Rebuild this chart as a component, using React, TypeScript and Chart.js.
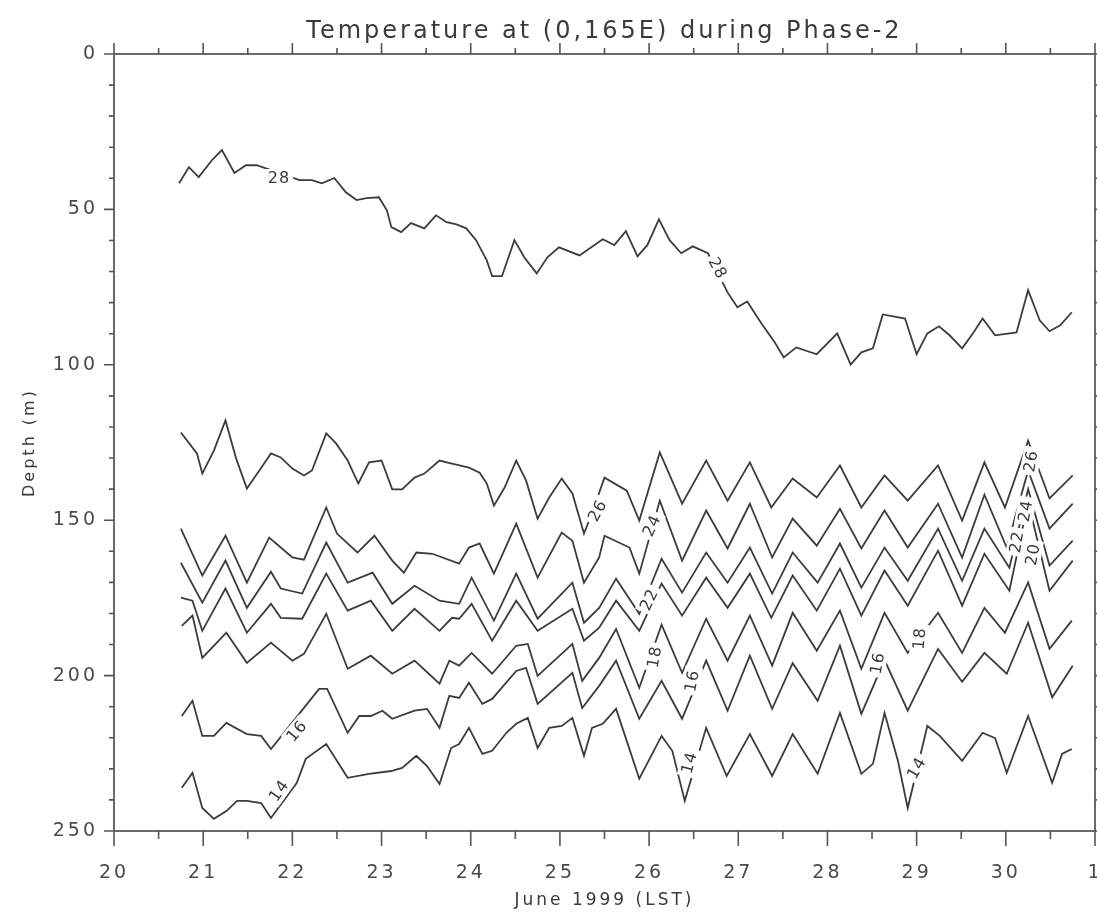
import React, { useEffect, useRef } from 'react';
import { Chart, registerables } from 'chart.js';

Chart.register(...registerables);

const TITLE = 'Temperature at (0,165E) during Phase-2';
const X_TITLE = 'June 1999 (LST)';
const Y_TITLE = 'Depth (m)';

const X_MIN = 20;
const X_MAX = 31;
const DEPTH_MIN = 0;
const DEPTH_MAX = 250;

const X_MAJOR_TICKS = [20, 21, 22, 23, 24, 25, 26, 27, 28, 29, 30, 31];
const X_TICK_LABELS = ['20', '21', '22', '23', '24', '25', '26', '27', '28', '29', '30', '1'];
const X_MINOR_TICKS = [20.5, 21.5, 22.5, 23.5, 24.5, 25.5, 26.5, 27.5, 28.5, 29.5, 30.5];
const DEPTH_MAJOR_TICKS = [0, 50, 100, 150, 200, 250];
const DEPTH_MINOR_TICKS = [10, 20, 30, 40, 60, 70, 80, 90, 110, 120, 130, 140, 160, 170, 180, 190, 210, 220, 230, 240];

// Isotherm 28 °C
const T28_DAY = [20.73, 20.84, 20.95, 21.10, 21.21, 21.35, 21.48, 21.60, 22.08, 22.22, 22.33, 22.47, 22.60, 22.72, 22.83, 22.97, 23.06, 23.11, 23.22, 23.33, 23.48, 23.61, 23.73, 23.84, 23.95, 24.06, 24.18, 24.24, 24.35, 24.49, 24.60, 24.74, 24.86, 24.99, 25.22, 25.48, 25.61, 25.74, 25.87, 25.98, 26.11, 26.23, 26.36, 26.49, 26.66, 26.88, 26.99, 27.10, 27.26, 27.41, 27.51, 27.65, 27.88, 28.11, 28.26, 28.38, 28.51, 28.62, 28.87, 29.00, 29.12, 29.25, 29.37, 29.51, 29.63, 29.74, 29.88, 30.12, 30.25, 30.38, 30.49, 30.61, 30.74];
const T28_DEPTH = [41.6, 36.4, 39.6, 34.1, 30.9, 38.3, 35.8, 35.8, 40.6, 40.6, 41.6, 39.9, 44.5, 47.0, 46.4, 46.1, 50.3, 55.7, 57.3, 54.4, 56.1, 51.9, 54.1, 54.8, 56.1, 59.9, 66.4, 71.5, 71.5, 59.9, 65.4, 70.6, 65.4, 62.2, 64.8, 59.6, 61.5, 57.0, 65.1, 61.5, 53.2, 59.9, 64.1, 61.9, 64.1, 76.7, 81.5, 79.6, 86.7, 92.8, 97.6, 94.4, 96.6, 89.9, 99.9, 96.0, 94.7, 83.8, 85.1, 96.6, 89.9, 87.6, 90.5, 94.7, 89.9, 85.1, 90.5, 89.6, 76.0, 85.7, 89.2, 87.3, 83.1];

// Isotherm 26 °C
const T26_DAY = [20.75, 20.93, 20.99, 21.12, 21.25, 21.37, 21.49, 21.63, 21.76, 21.87, 22.00, 22.13, 22.22, 22.38, 22.49, 22.62, 22.74, 22.86, 23.00, 23.12, 23.23, 23.37, 23.48, 23.65, 23.79, 23.98, 24.10, 24.18, 24.26, 24.38, 24.51, 24.62, 24.75, 24.88, 25.02, 25.14, 25.27, 25.35, 25.50, 25.75, 25.89, 26.12, 26.37, 26.64, 26.88, 27.13, 27.37, 27.61, 27.88, 28.14, 28.38, 28.64, 28.90, 29.24, 29.51, 29.76, 29.99, 30.25, 30.49, 30.75];
const T26_DEPTH = [121.8, 128.5, 135.0, 127.6, 117.9, 130.2, 139.8, 134.0, 128.5, 129.8, 133.4, 135.6, 134.0, 122.1, 125.3, 130.8, 138.2, 131.4, 130.8, 140.1, 140.1, 136.3, 135.0, 130.8, 131.8, 133.1, 134.7, 138.2, 145.3, 139.5, 130.8, 137.2, 149.5, 142.7, 136.6, 141.4, 154.3, 148.5, 136.3, 140.5, 150.1, 128.2, 144.7, 130.8, 143.7, 131.4, 145.9, 136.6, 142.7, 132.4, 145.9, 135.6, 143.7, 132.4, 150.1, 131.4, 145.9, 124.4, 143.0, 135.6];

// Isotherm 24 °C
const T24_DAY = [20.75, 20.99, 21.25, 21.49, 21.74, 21.87, 22.00, 22.13, 22.38, 22.50, 22.73, 22.92, 23.12, 23.25, 23.39, 23.57, 23.87, 23.98, 24.10, 24.26, 24.51, 24.75, 25.02, 25.14, 25.27, 25.44, 25.50, 25.78, 25.89, 26.12, 26.37, 26.64, 26.88, 27.13, 27.38, 27.61, 27.88, 28.14, 28.38, 28.64, 28.90, 29.24, 29.51, 29.76, 30.01, 30.25, 30.49, 30.75];
const T24_DEPTH = [152.7, 167.8, 155.0, 170.1, 155.6, 158.8, 162.0, 162.7, 145.9, 154.3, 160.4, 155.0, 163.0, 166.9, 160.4, 160.8, 164.0, 158.8, 157.5, 167.2, 151.1, 168.5, 154.0, 156.6, 170.1, 162.0, 155.0, 158.8, 167.2, 143.7, 163.0, 146.9, 159.1, 144.7, 162.0, 149.5, 158.2, 146.3, 159.1, 146.9, 158.8, 144.7, 162.0, 141.8, 158.8, 134.0, 152.7, 144.7];

// Isotherm 22 °C
const T22_DAY = [20.75, 20.99, 21.25, 21.49, 21.76, 21.87, 22.11, 22.38, 22.62, 22.90, 23.12, 23.37, 23.65, 23.87, 24.01, 24.26, 24.51, 24.75, 25.14, 25.27, 25.44, 25.63, 25.89, 26.14, 26.37, 26.64, 26.88, 27.13, 27.38, 27.61, 27.89, 28.14, 28.38, 28.64, 28.90, 29.24, 29.51, 29.76, 30.04, 30.25, 30.49, 30.75];
const T22_DEPTH = [163.7, 176.5, 163.0, 178.2, 166.6, 172.0, 173.6, 157.2, 170.1, 166.9, 176.9, 171.1, 175.9, 176.9, 168.5, 182.3, 167.2, 181.7, 170.1, 183.0, 178.2, 168.8, 180.1, 162.4, 173.3, 160.4, 170.1, 158.8, 173.6, 160.4, 170.1, 157.5, 171.7, 158.8, 169.5, 152.7, 169.5, 152.7, 165.3, 140.0, 164.6, 156.6];

// Isotherm 20 °C
const T20_DAY = [20.75, 20.88, 20.99, 21.25, 21.49, 21.76, 21.87, 22.11, 22.38, 22.62, 22.88, 23.12, 23.37, 23.65, 23.79, 23.87, 24.01, 24.24, 24.51, 24.75, 25.14, 25.27, 25.44, 25.63, 25.89, 26.14, 26.37, 26.64, 26.88, 27.13, 27.37, 27.61, 27.88, 28.14, 28.38, 28.64, 28.90, 29.24, 29.51, 29.76, 30.04, 30.25, 30.49, 30.75];
const T20_DEPTH = [174.9, 175.9, 185.6, 172.0, 186.2, 176.9, 181.4, 181.7, 167.2, 179.1, 175.9, 185.6, 178.5, 185.6, 181.4, 181.7, 176.9, 188.8, 175.9, 185.6, 178.5, 188.8, 184.6, 175.9, 185.6, 170.4, 180.7, 168.5, 178.2, 167.2, 181.4, 167.8, 179.1, 165.6, 180.7, 166.2, 177.5, 159.8, 177.5, 160.8, 172.7, 144.0, 172.7, 163.0];

// Isotherm 18 °C
const T18_DAY = [20.76, 20.88, 20.99, 21.26, 21.49, 21.76, 22.00, 22.13, 22.38, 22.62, 22.88, 23.12, 23.37, 23.65, 23.76, 23.87, 24.01, 24.24, 24.51, 24.64, 24.75, 25.14, 25.25, 25.44, 25.63, 25.89, 26.14, 26.37, 26.64, 26.88, 27.13, 27.38, 27.61, 27.88, 28.14, 28.38, 28.64, 28.90, 29.24, 29.51, 29.76, 29.99, 30.25, 30.49, 30.74];
const T18_DEPTH = [184.0, 180.7, 194.3, 186.2, 195.9, 189.4, 195.2, 193.0, 180.1, 197.8, 193.6, 199.4, 195.2, 202.6, 195.2, 196.8, 192.7, 199.4, 190.4, 189.8, 200.1, 189.8, 201.7, 194.3, 185.0, 203.9, 183.6, 199.1, 181.7, 195.2, 180.7, 196.8, 179.8, 192.0, 179.1, 197.8, 179.8, 192.7, 179.8, 192.7, 178.2, 186.2, 170.0, 191.4, 182.3];

// Isotherm 16 °C
const T16_DAY = [20.76, 20.88, 20.99, 21.12, 21.26, 21.49, 21.65, 21.76, 22.13, 22.30, 22.39, 22.62, 22.75, 22.88, 23.01, 23.12, 23.37, 23.51, 23.65, 23.76, 23.87, 23.98, 24.13, 24.24, 24.51, 24.62, 24.75, 25.14, 25.25, 25.44, 25.63, 25.89, 26.14, 26.37, 26.64, 26.88, 27.13, 27.38, 27.61, 27.89, 28.14, 28.38, 28.64, 28.90, 29.24, 29.51, 29.76, 30.01, 30.25, 30.52, 30.75];
const T16_DEPTH = [213.0, 208.1, 219.4, 219.4, 215.2, 218.8, 219.4, 223.6, 210.4, 204.3, 204.3, 218.4, 213.0, 213.0, 211.3, 213.9, 211.3, 210.7, 216.8, 206.5, 207.2, 202.3, 209.1, 207.5, 198.5, 197.5, 209.1, 199.1, 210.4, 203.3, 195.2, 213.9, 201.7, 213.9, 195.2, 211.3, 193.6, 210.7, 196.0, 208.1, 190.4, 212.3, 195.0, 211.3, 191.4, 202.0, 192.7, 199.4, 183.0, 207.0, 196.8];

// Isotherm 14 °C
const T14_DAY = [20.76, 20.88, 20.99, 21.12, 21.26, 21.38, 21.49, 21.65, 21.76, 22.05, 22.15, 22.38, 22.62, 22.86, 23.11, 23.23, 23.39, 23.51, 23.65, 23.78, 23.87, 23.98, 24.13, 24.24, 24.40, 24.51, 24.64, 24.75, 24.88, 25.02, 25.14, 25.27, 25.36, 25.48, 25.63, 25.89, 26.14, 26.26, 26.40, 26.64, 26.87, 27.13, 27.38, 27.61, 27.89, 28.14, 28.38, 28.51, 28.64, 28.79, 28.90, 29.12, 29.26, 29.51, 29.74, 29.88, 30.01, 30.25, 30.52, 30.63, 30.74];
const T14_DEPTH = [236.1, 231.3, 242.6, 246.1, 243.6, 240.3, 240.3, 241.0, 245.8, 234.5, 226.8, 222.0, 232.9, 231.6, 230.7, 229.7, 225.8, 229.1, 234.9, 223.3, 222.0, 216.8, 225.2, 224.2, 218.4, 215.5, 213.6, 223.3, 216.8, 216.2, 213.6, 225.8, 216.8, 215.5, 210.7, 233.2, 219.4, 224.2, 240.3, 216.8, 232.3, 218.8, 232.3, 218.8, 231.6, 212.0, 231.6, 228.4, 212.0, 227.4, 242.6, 216.2, 219.4, 227.4, 218.4, 220.1, 231.3, 213.0, 234.5, 225.2, 223.6];

const ISOTHERM_NAMES = ['28', '26', '24', '22', '20', '18', '16', '14'];
const ISOTHERM_DAYS = [T28_DAY, T26_DAY, T24_DAY, T22_DAY, T20_DAY, T18_DAY, T16_DAY, T14_DAY];
const ISOTHERM_DEPTHS = [T28_DEPTH, T26_DEPTH, T24_DEPTH, T22_DEPTH, T20_DEPTH, T18_DEPTH, T16_DEPTH, T14_DEPTH];

// In-line contour labels
const LABEL_TEXT = ['28', '28', '26', '24', '22', '18', '16', '14', '16', '14', '16', '18', '14', '26', '24', '22', '20'];
const LABEL_DAY = [21.85, 26.77, 25.42, 26.03, 26.00, 26.06, 26.48, 26.45, 22.05, 21.85, 28.56, 29.03, 29.00, 30.28, 30.22, 30.12, 30.30];
const LABEL_DEPTH = [39.9, 68.9, 146.9, 151.7, 175.5, 194.0, 201.7, 228.0, 217.8, 237.0, 196.0, 188.0, 229.7, 131.0, 147.0, 157.0, 161.0];
const LABEL_ANGLE = [0, 62, -62, -65, -65, -80, -80, -75, -50, -55, -80, -85, -60, -80, -80, -80, -80];

const FONT = '"DejaVu Sans", "Liberation Sans", sans-serif';

const framePlugin = {
  id: 'frameTicks',
  beforeDraw(chart: any) {
    const ctx = chart.ctx;
    ctx.fillStyle = '#ffffff';
    ctx.fillRect(0, 0, chart.width, chart.height);
    (ctx as any).letterSpacing = '3px';
  },
  afterDatasetsDraw(chart: any) {
    const ctx = chart.ctx;
    const xs = chart.scales.x;
    const ys = chart.scales.y;
    ctx.save();
    ctx.font = `16px ${FONT}`;
    (ctx as any).letterSpacing = '1px';
    ctx.textAlign = 'center';
    ctx.textBaseline = 'middle';
    for (let i = 0; i < LABEL_TEXT.length; i++) {
      const px = xs.getPixelForValue(LABEL_DAY[i]);
      const py = ys.getPixelForValue(LABEL_DEPTH[i]);
      const w = ctx.measureText(LABEL_TEXT[i]).width;
      ctx.save();
      ctx.translate(px, py);
      ctx.rotate((LABEL_ANGLE[i] * Math.PI) / 180);
      ctx.fillStyle = '#ffffff';
      ctx.fillRect(-w / 2 - 3, -9, w + 6, 18);
      ctx.fillStyle = '#3a3a3a';
      ctx.fillText(LABEL_TEXT[i], 0, 1);
      ctx.restore();
    }
    ctx.restore();
  },
  afterDraw(chart: any) {
    const ctx = chart.ctx;
    const { left, right, top, bottom } = chart.chartArea;
    const xs = chart.scales.x;
    const ys = chart.scales.y;
    ctx.save();
    ctx.strokeStyle = '#6a6a6a';
    ctx.lineWidth = 2;
    ctx.beginPath();
    ctx.rect(left, top, right - left, bottom - top);
    ctx.stroke();
    ctx.lineWidth = 1.6;
    ctx.strokeStyle = '#555';
    ctx.beginPath();
    X_MAJOR_TICKS.forEach((v) => {
      const p = xs.getPixelForValue(v);
      ctx.moveTo(p, bottom); ctx.lineTo(p, bottom + 15);
      ctx.moveTo(p, top); ctx.lineTo(p, top - 11);
    });
    X_MINOR_TICKS.forEach((v) => {
      const p = xs.getPixelForValue(v);
      ctx.moveTo(p, bottom); ctx.lineTo(p, bottom + 8);
      ctx.moveTo(p, top); ctx.lineTo(p, top - 6);
    });
    DEPTH_MAJOR_TICKS.forEach((v) => {
      const p = ys.getPixelForValue(v);
      ctx.moveTo(left, p); ctx.lineTo(left - 10, p);
      ctx.moveTo(right, p); ctx.lineTo(right + 10, p);
    });
    DEPTH_MINOR_TICKS.forEach((v) => {
      const p = ys.getPixelForValue(v);
      ctx.moveTo(left, p); ctx.lineTo(left - 5, p);
      ctx.moveTo(right, p); ctx.lineTo(right + 5, p);
    });
    ctx.stroke();
    ctx.restore();
  },
};

export default function App() {
  const ref = useRef<HTMLCanvasElement | null>(null);
  useEffect(() => {
    if (!ref.current) return;
    const datasets = ISOTHERM_NAMES.map((name, i) => ({
      label: name + ' °C',
      data: ISOTHERM_DAYS[i].map((d, j) => ({ x: d, y: ISOTHERM_DEPTHS[i][j] })),
      showLine: true,
      borderColor: '#3c3c3c',
      borderWidth: 1.8,
      pointRadius: 0,
      tension: 0,
      fill: false,
    }));
    const chart = new Chart(ref.current, {
      type: 'scatter',
      data: { datasets },
      options: {
        animation: false,
        responsive: false,
        devicePixelRatio: 1,
        layout: { padding: { left: 0, right: 2, top: 0, bottom: 0 } },
        plugins: {
          legend: { display: false },
          tooltip: { enabled: false },
          title: {
            display: true,
            fullSize: false,
            text: TITLE,
            color: '#3a3a3a',
            font: { family: FONT, size: 24, weight: 'normal' },
            padding: { top: 17, bottom: 8.2 },
          },
        },
        scales: {
          x: {
            type: 'linear',
            min: X_MIN,
            max: X_MAX,
            grid: { display: false, drawTicks: false },
            border: { display: false },
            afterBuildTicks: (scale: any) => {
              scale.ticks = X_MAJOR_TICKS.map((v) => ({ value: v }));
            },
            afterFit: (scale: any) => {
              scale.height = 85;
              scale.paddingLeft = 0;
              scale.paddingRight = 0;
            },
            ticks: {
              autoSkip: false,
              maxRotation: 0,
              padding: 31,
              color: '#4a4a4a',
              font: { family: FONT, size: 19 },
              callback: (v: any) => {
                const k = X_MAJOR_TICKS.indexOf(Number(v));
                return k >= 0 ? X_TICK_LABELS[k] : '';
              },
            },
            title: {
              display: true,
              text: X_TITLE,
              color: '#3a3a3a',
              font: { family: FONT, size: 17 },
              padding: { top: 0, bottom: 5 },
            },
          },
          y: {
            type: 'linear',
            reverse: true,
            min: DEPTH_MIN,
            max: DEPTH_MAX,
            grid: { display: false, drawTicks: false },
            border: { display: false },
            afterBuildTicks: (scale: any) => {
              scale.ticks = DEPTH_MAJOR_TICKS.map((v) => ({ value: v }));
            },
            afterFit: (scale: any) => {
              scale.width = 114;
              scale.paddingTop = 0;
              scale.paddingBottom = 0;
            },
            ticks: {
              padding: 16,
              color: '#4a4a4a',
              font: { family: FONT, size: 19 },
            },
            title: {
              display: true,
              text: Y_TITLE,
              color: '#3a3a3a',
              font: { family: FONT, size: 16 },
              padding: { top: 20, bottom: 0 },
            },
          },
        },
      },
      plugins: [framePlugin],
    });
    return () => chart.destroy();
  }, []);
  return (
    <div style={{ position: 'absolute', left: 0, top: 0, width: 1097, height: 916 }}>
      <canvas ref={ref} width={1097} height={916} style={{ display: 'block' }} />
    </div>
  );
}
